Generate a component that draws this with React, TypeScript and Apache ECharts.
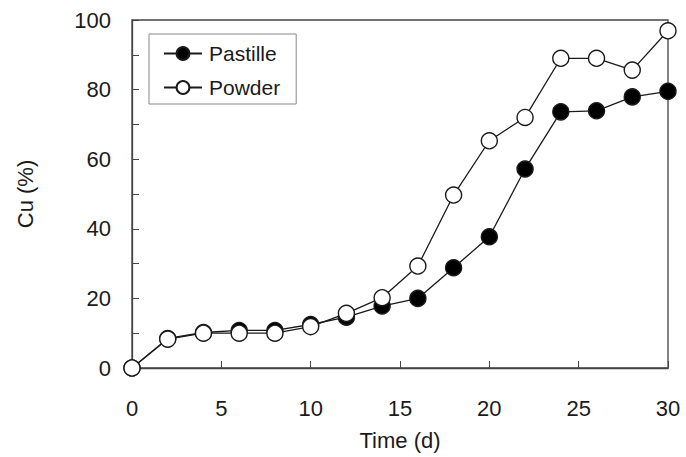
import React, { useEffect, useRef } from "react";
import * as echarts from "echarts";

const days = [0, 2, 4, 6, 8, 10, 12, 14, 16, 18, 20, 22, 24, 26, 28, 30];
const pastille = [0, 8.5, 10.2, 10.8, 10.8, 12.5, 14.6, 17.8, 20.0, 28.8, 37.7, 57.2, 73.6, 73.9, 77.9, 79.5];
const powder = [0, 8.3, 10.0, 10.0, 10.0, 11.9, 15.7, 20.2, 29.3, 49.7, 65.3, 72.0, 89.0, 89.0, 85.6, 96.9];

const FONT = "Liberation Sans";
const INK = "#1a1a1a";

export default function App() {
  const ref = useRef<HTMLDivElement>(null);
  useEffect(() => {
    const chart = echarts.init(ref.current!, null, { renderer: "svg" });
    const mk = (name: string, vals: number[], fill: string) => ({
      name,
      type: "line",
      data: days.map((d, i) => [d, vals[i]]),
      symbol: "circle",
      symbolSize: 16,
      showSymbol: true,
      lineStyle: { color: INK, width: 1.3 },
      itemStyle: { color: fill, borderColor: INK, borderWidth: 1.4 },
      emphasis: { disabled: true },
    });
    chart.setOption({
      animation: false,
      textStyle: { fontFamily: FONT },
      grid: {
        left: 132,
        right: 18,
        top: 20,
        bottom: 89,
        show: true,
        borderColor: "#444",
        borderWidth: 1.3,
        backgroundColor: "transparent",
      },
      legend: {
        left: 149,
        top: 34,
        orient: "vertical",
        data: ["Pastille", "Powder"],
        itemWidth: 38,
        itemHeight: 16,
        itemGap: 13,
        padding: [9, 16, 6, 14],
        borderColor: "#888",
        borderWidth: 1,
        textStyle: { fontFamily: FONT, fontSize: 21, color: INK, padding: [0, 0, 0, 2] },
      },
      xAxis: {
        type: "value",
        min: 0,
        max: 30,
        interval: 5,
        name: "Time (d)",
        nameLocation: "middle",
        nameGap: 61,
        nameTextStyle: { fontFamily: FONT, fontSize: 22, color: INK, verticalAlign: "top" },
        axisLine: { lineStyle: { color: "#444", width: 1.3 } },
        axisTick: { show: true, inside: true, length: 7, lineStyle: { color: "#444" } },
        axisLabel: { fontFamily: FONT, fontSize: 22, color: INK, margin: 29 },
        splitLine: { show: false },
      },
      yAxis: {
        type: "value",
        min: 0,
        max: 100,
        interval: 20,
        name: "Cu (%)",
        nameLocation: "middle",
        nameGap: 96,
        nameTextStyle: { fontFamily: FONT, fontSize: 22, color: INK },
        axisLine: { show: true, lineStyle: { color: "#444", width: 1.3 } },
        axisTick: { show: true, inside: true, length: 7, lineStyle: { color: "#444" } },
        minorTick: { show: true, splitNumber: 2, length: 7, lineStyle: { color: "#444" } },
        axisLabel: { fontFamily: FONT, fontSize: 22, color: INK, margin: 21 },
        splitLine: { show: false },
      },
      series: [mk("Pastille", pastille, "#000"), mk("Powder", powder, "#fff")],
    });
    return () => chart.dispose();
  }, []);
  return (
    <div
      ref={ref}
      style={{ position: "fixed", left: 0, top: 0, width: 686, height: 457, background: "#fff" }}
    />
  );
}
